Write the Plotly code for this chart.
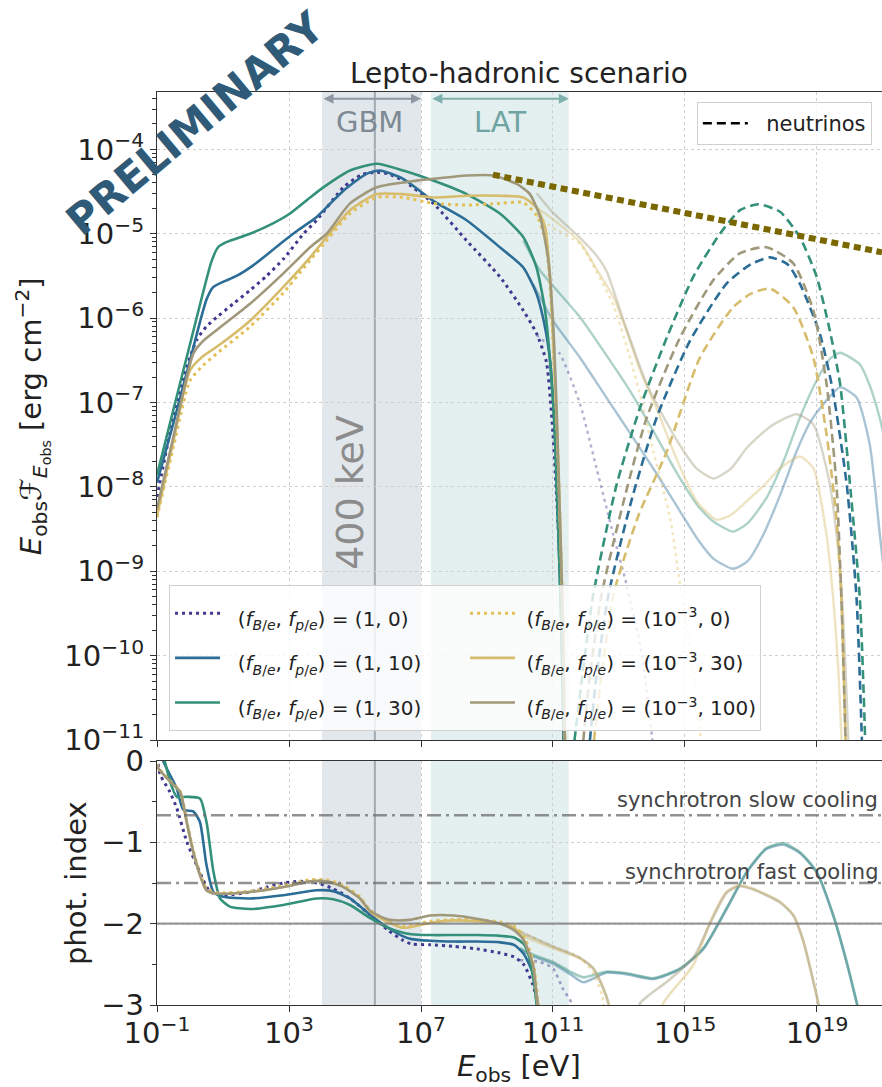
import plotly.graph_objects as go

# ---------------- axis ranges / reference values ----------------
x_range_log = [-1, 20.97]          # log10(E_obs / eV)
sed_range_log = [-11, -3.32]       # log10(E F_E / erg cm^-2)
index_range = [-3, 0]

gbm_band = [1e4, 1e7]
lat_band = [2e7, 3e11]
line_400keV = 4e5
slow_cooling_index = -2 / 3
fast_cooling_index = -3 / 2
reference_index = -2

x_tick_exps = [-1, 3, 7, 11, 15, 19]
y_tick_exps = [-4, -5, -6, -7, -8, -9, -10, -11]
idx_ticks = [0, -1, -2, -3]

# ---------------- top panel: photon spectra (log10 values) ----------------
sed_1_0_logE = [-1.0, -0.6, -0.2, 0.2, 0.5, 0.81, 1.31, 1.82, 2.32, 2.83, 3.44, 3.84, 4.65, 5.2, 5.66, 6.0,
                6.46, 7.37, 8.38, 9.39, 10.1, 10.5, 10.8, 11.0, 11.17, 11.26, 11.35]
sed_1_0_logF = [-8.12, -7.35, -6.7, -6.26, -6.1, -5.99, -5.83, -5.67, -5.5, -5.3, -5.0, -4.84, -4.45, -4.3,
                -4.27, -4.29, -4.37, -4.64, -5.08, -5.51, -5.91, -6.18, -6.52, -7.38, -8.57, -9.36, -11.5]

sed_1_10_logE = [-1.0, -0.5, 0.0, 0.5, 0.71, 1.0, 1.41, 2.0, 2.7, 3.3, 3.84, 4.65, 5.35, 5.76, 6.46, 7.37,
                 8.38, 9.39, 10.1, 10.5, 10.76, 10.91, 11.05, 11.15, 11.25, 11.35]
sed_1_10_logF = [-7.95, -7.24, -6.5, -5.78, -5.63, -5.57, -5.5, -5.35, -5.13, -4.95, -4.8, -4.49, -4.29,
                 -4.25, -4.35, -4.61, -4.84, -5.16, -5.4, -5.71, -6.11, -6.5, -7.3, -8.4, -9.6, -11.5]

sed_1_30_logE = [-1.0, -0.5, 0.0, 0.4, 0.65, 0.85, 1.1, 1.82, 2.5, 3.03, 3.64, 4.04, 4.85, 5.66, 6.46, 7.37,
                 8.38, 9.39, 10.1, 10.5, 10.76, 10.91, 11.05, 11.15, 11.25, 11.36]
sed_1_30_logF = [-7.86, -7.08, -6.31, -5.69, -5.33, -5.16, -5.1, -5.0, -4.88, -4.76, -4.57, -4.45, -4.25,
                 -4.17, -4.25, -4.37, -4.53, -4.76, -5.04, -5.4, -5.91, -6.5, -7.3, -8.4, -9.6, -11.5]

sed_3_0_logE = [-1.0, -0.5, 0.0, 0.4, 0.81, 1.82, 2.83, 3.5, 4.14, 4.85, 5.66, 6.46, 7.37, 8.38, 9.39, 10.1,
                10.5, 10.76, 10.91, 11.01, 11.12, 11.22, 11.3, 11.38]
sed_3_0_logF = [-8.36, -7.52, -6.74, -6.56, -6.42, -6.1, -5.7, -5.38, -5.08, -4.76, -4.57, -4.57, -4.64,
                -4.66, -4.64, -4.63, -4.78, -5.05, -5.6, -6.35, -7.3, -8.5, -9.6, -11.5]

sed_3_30_logE = [-1.0, -0.5, 0.0, 0.4, 0.81, 1.82, 2.83, 3.64, 4.14, 4.85, 5.66, 6.46, 7.37, 8.38, 9.39, 10.1,
                 10.5, 10.76, 10.91, 11.01, 11.12, 11.22, 11.3, 11.38]
sed_3_30_logF = [-8.34, -7.45, -6.62, -6.45, -6.34, -6.03, -5.63, -5.28, -5.04, -4.72, -4.53, -4.53, -4.57,
                 -4.55, -4.55, -4.57, -4.69, -4.92, -5.51, -6.3, -7.3, -8.5, -9.6, -11.5]

sed_3_100_logE = [-1.0, -0.5, 0.1, 0.4, 0.81, 1.82, 2.83, 3.64, 4.14, 4.85, 5.66, 6.87, 7.6, 8.38, 9.19, 9.9,
                  10.3, 10.61, 10.86, 11.01, 11.12, 11.22, 11.3, 11.38]
sed_3_100_logF = [-8.26, -7.4, -6.42, -6.27, -6.14, -5.83, -5.47, -5.16, -5.0, -4.64, -4.45, -4.37, -4.34,
                  -4.31, -4.31, -4.41, -4.53, -4.8, -5.32, -6.11, -7.2, -8.5, -9.6, -11.5]

# faint (unabsorbed) high-energy continuations
hi_1_0_logE = [10.5, 10.9, 11.2, 11.82, 12.32, 12.83, 13.23, 13.7, 14.15]
hi_1_0_logF = [-6.2, -6.33, -6.42, -7.02, -7.78, -8.57, -9.16, -10.0, -11.5]

hi_1_10_logE = [10.4, 11.0, 11.82, 12.6, 13.43, 14.2, 14.85, 15.4, 15.86, 16.46, 16.9, 17.37, 17.9, 18.38,
                18.8, 19.19, 19.7, 20.2, 20.6, 20.9, 21.0]
hi_1_10_logF = [-5.6, -6.03, -6.47, -6.93, -7.42, -7.88, -8.29, -8.63, -8.85, -8.97, -8.88, -8.57, -8.08,
                -7.58, -7.23, -7.02, -6.82, -6.94, -7.5, -8.55, -8.9]

hi_1_30_logE = [10.1, 10.6, 11.82, 12.6, 13.33, 14.1, 14.85, 15.4, 15.86, 16.46, 16.9, 17.47, 18.0, 18.48,
                19.0, 19.4, 19.7, 20.3, 20.6, 20.9, 21.0]
hi_1_30_logF = [-5.08, -5.43, -5.99, -6.43, -6.86, -7.38, -7.9, -8.23, -8.41, -8.53, -8.43, -8.13, -7.68,
                -7.18, -6.73, -6.48, -6.41, -6.55, -6.8, -7.18, -7.35]

hi_3_0_logE = [10.5, 11.0, 11.82, 12.32, 12.83, 13.3, 13.7, 14.04, 14.55, 14.85, 15.3, 15.6]
hi_3_0_logF = [-4.78, -4.93, -5.12, -5.45, -5.85, -6.42, -7.0, -7.58, -8.37, -9.16, -10.3, -11.5]

hi_3_30_logE = [10.5, 11.0, 11.82, 12.32, 12.83, 13.2, 13.64, 14.2, 14.65, 15.35, 15.96, 16.4, 16.87, 17.4,
                17.88, 18.48, 18.89, 19.29, 19.49, 19.65, 19.8]
hi_3_30_logF = [-4.69, -4.83, -5.1, -5.42, -5.75, -6.12, -6.62, -7.13, -7.58, -8.17, -8.39, -8.33, -8.17,
                -7.98, -7.78, -7.64, -7.78, -8.57, -9.32, -10.2, -11.5]

hi_3_100_logE = [10.5, 11.0, 11.82, 12.3, 12.63, 13.13, 13.84, 14.65, 15.35, 15.86, 16.4, 16.87, 17.6, 18.38,
                 18.89, 19.39, 19.7, 19.85, 20.0]
hi_3_100_logF = [-4.52, -4.75, -5.05, -5.25, -5.45, -6.02, -6.78, -7.38, -7.78, -7.9, -7.78, -7.54, -7.28,
                 -7.14, -7.26, -7.97, -8.97, -10.0, -11.5]

# neutrino spectra (dashed)
nu_1_10_logE = [12.0, 12.3, 12.68, 13.4, 14.14, 15.15, 16.26, 17.0, 17.58, 18.1, 18.48, 19.09, 19.48, 19.9,
                20.2, 20.4]
nu_1_10_logF = [-11.5, -10.3, -9.28, -8.13, -7.18, -6.27, -5.59, -5.36, -5.28, -5.36, -5.59, -6.19, -6.86,
                -7.97, -9.33, -11.5]

nu_1_30_logE = [11.5, 11.9, 12.22, 12.93, 13.64, 14.45, 15.25, 16.06, 16.67, 17.22, 17.88, 18.48, 18.99,
                19.39, 19.7, 20.0, 20.3, 20.5]
nu_1_30_logF = [-11.5, -10.2, -9.28, -7.97, -7.06, -6.23, -5.51, -5.0, -4.72, -4.65, -4.74, -5.04, -5.51,
                -6.15, -6.78, -7.97, -9.33, -11.5]

nu_3_30_logE = [12.1, 12.45, 12.83, 13.6, 14.45, 15.45, 16.46, 17.0, 17.58, 18.28, 18.89, 19.29, 19.59,
                19.74, 19.9]
nu_3_30_logF = [-11.5, -10.3, -9.28, -8.33, -7.58, -6.47, -5.87, -5.71, -5.65, -5.87, -6.47, -7.38, -8.37,
                -9.33, -11.5]

nu_3_100_logE = [11.8, 12.1, 12.47, 13.2, 13.84, 14.85, 15.86, 16.67, 17.47, 18.28, 18.89, 19.29, 19.59,
                 19.74, 19.9]
nu_3_100_logF = [-11.5, -10.3, -9.28, -8.08, -7.18, -6.23, -5.55, -5.23, -5.16, -5.35, -5.91, -6.78, -7.97,
                 -9.33, -11.5]

# neutrino limit line (thick dotted)
nu_limit_logE = [9.18, 20.97]
nu_limit_logF = [-4.30, -5.22]

# ---------------- bottom panel: photon index ----------------
idx_1_0_logE = [-1.0, -0.9, -0.61, -0.4, -0.1, 0.2, 0.4, 0.61, 1.01, 1.82, 2.32, 2.83, 3.33, 3.84, 4.34, 4.85,
                5.45, 6.0, 6.43, 6.71, 7.28, 8.0, 8.69, 9.4, 9.82, 10.11, 10.39, 10.53, 10.6]
idx_1_0 = [0.05, -0.17, -0.38, -0.58, -0.99, -1.28, -1.46, -1.61, -1.65, -1.61, -1.55, -1.5, -1.48, -1.5,
           -1.57, -1.69, -1.89, -2.08, -2.2, -2.25, -2.26, -2.28, -2.31, -2.36, -2.41, -2.5, -2.75, -2.98, -3.2]

idx_1_10_logE = [-1.0, -0.8, -0.4, -0.2, 0.1, 0.3, 0.5, 0.71, 1.01, 1.82, 2.83, 3.84, 4.34, 4.85, 5.45, 6.0,
                 6.43, 6.71, 7.28, 8.0, 8.69, 9.4, 9.82, 10.11, 10.39, 10.53, 10.6]
idx_1_10 = [0.3, -0.01, -0.34, -0.6, -0.62, -0.75, -1.28, -1.61, -1.67, -1.69, -1.65, -1.59, -1.6, -1.69,
            -1.89, -2.05, -2.15, -2.19, -2.21, -2.22, -2.22, -2.23, -2.26, -2.37, -2.61, -2.98, -3.2]

idx_1_30_logE = [-1.0, -0.76, -0.61, -0.4, -0.1, 0.3, 0.5, 0.71, 0.91, 1.21, 1.82, 2.83, 3.84, 4.34, 4.85,
                 5.45, 6.0, 6.43, 6.71, 7.28, 8.0, 8.69, 9.4, 9.82, 10.11, 10.25, 10.45, 10.55]
idx_1_30 = [0.3, -0.01, -0.25, -0.44, -0.44, -0.46, -0.75, -1.36, -1.69, -1.79, -1.82, -1.77, -1.69, -1.7,
            -1.77, -1.93, -2.05, -2.11, -2.13, -2.14, -2.14, -2.14, -2.15, -2.17, -2.25, -2.37, -2.8, -3.2]

idx_3_0_logE = [-1.0, -0.96, -0.61, -0.3, -0.1, 0.1, 0.3, 0.5, 0.81, 1.82, 2.83, 3.64, 4.14, 4.65, 5.15, 5.45,
                6.0, 6.43, 6.71, 7.28, 8.0, 8.69, 9.4, 9.82, 10.11, 10.39, 10.53, 10.6]
idx_3_0 = [-0.04, -0.08, -0.24, -0.37, -0.74, -1.1, -1.38, -1.57, -1.62, -1.6, -1.53, -1.46, -1.46, -1.53,
           -1.67, -1.83, -1.97, -2.03, -2.02, -1.97, -1.95, -1.95, -1.98, -2.03, -2.15, -2.45, -2.9, -3.2]

idx_3_30_logE = [-1.0, -0.96, -0.61, -0.3, -0.1, 0.1, 0.3, 0.5, 0.81, 1.82, 2.83, 3.64, 4.14, 4.65, 5.15, 5.45,
                 6.0, 6.43, 6.71, 7.28, 8.0, 8.69, 9.4, 9.82, 10.11, 10.39, 10.53, 10.6]
idx_3_30 = [-0.05, -0.09, -0.25, -0.38, -0.75, -1.12, -1.4, -1.59, -1.63, -1.61, -1.55, -1.48, -1.48, -1.55,
            -1.69, -1.85, -1.98, -2.05, -2.04, -1.99, -1.96, -1.97, -2.0, -2.05, -2.2, -2.5, -2.98, -3.2]

idx_3_100_logE = [-1.0, -0.96, -0.61, -0.3, -0.1, 0.1, 0.3, 0.5, 0.81, 1.82, 2.83, 3.64, 4.14, 4.65, 5.15,
                  5.45, 6.0, 6.43, 6.71, 7.28, 8.0, 8.69, 9.4, 9.82, 10.11, 10.39, 10.53, 10.6]
idx_3_100 = [-0.05, -0.09, -0.25, -0.38, -0.75, -1.12, -1.4, -1.59, -1.63, -1.61, -1.55, -1.48, -1.48, -1.55,
             -1.69, -1.84, -1.95, -1.96, -1.95, -1.9, -1.9, -1.94, -2.0, -2.08, -2.2, -2.5, -2.98, -3.2]

# faint continuations of the photon index
idxhi_1_0_logE = [10.0, 10.6, 11.0, 11.3, 11.57, 11.7]
idxhi_1_0 = [-2.45, -2.47, -2.55, -2.8, -2.98, -3.3]

idxhi_1_10_logE = [10.0, 10.4, 11.0, 11.52, 11.92, 12.63, 13.23, 14.04, 14.85, 15.56, 16.26, 16.87, 17.47,
                   17.98, 18.48, 18.99, 19.49, 19.9, 20.2, 20.4]
idxhi_1_10 = [-2.32, -2.4, -2.49, -2.62, -2.72, -2.6, -2.62, -2.68, -2.56, -2.31, -1.82, -1.37, -1.08, -1.03,
              -1.13, -1.37, -1.9, -2.48, -2.97, -3.3]

idxhi_1_30_logE = [10.0, 10.4, 11.0, 11.52, 11.92, 12.63, 13.23, 14.04, 14.85, 15.56, 16.26, 16.87, 17.47,
                   17.98, 18.48, 18.99, 19.49, 19.9, 20.2, 20.4]
idxhi_1_30 = [-2.3, -2.38, -2.47, -2.59, -2.66, -2.59, -2.61, -2.67, -2.55, -2.3, -1.81, -1.36, -1.07, -1.01,
              -1.12, -1.36, -1.89, -2.47, -2.96, -3.3]

idxhi_3_0_logE = [10.0, 11.0, 11.82, 12.22, 12.5, 12.6]
idxhi_3_0 = [-2.1, -2.28, -2.42, -2.6, -2.9, -3.3]

idxhi_3_30_logE = [10.0, 11.0, 11.82, 12.22, 12.53, 12.68, 12.8, None,
                   14.2, 14.34, 15.25, 15.76, 16.26, 16.62, 17.07, 17.88, 18.28, 18.59, 18.89, 19.04, 19.15]
idxhi_3_30 = [-2.14, -2.3, -2.43, -2.55, -2.8, -2.98, -3.3, None,
              -3.3, -2.98, -2.51, -1.98, -1.61, -1.53, -1.57, -1.73, -1.89, -2.22, -2.71, -2.98, -3.3]

idxhi_3_100_logE = [10.0, 11.0, 11.82, 12.22, 12.53, 12.68, 12.8, None,
                    13.5, 13.64, 14.5, 15.25, 15.76, 16.26, 16.62, 17.07, 17.88, 18.28, 18.59, 18.89, 19.04, 19.15]
idxhi_3_100 = [-2.1, -2.28, -2.42, -2.55, -2.8, -2.98, -3.3, None,
               -3.3, -2.98, -2.7, -2.42, -2.0, -1.62, -1.54, -1.58, -1.74, -1.9, -2.22, -2.71, -2.98, -3.3]

# ---------------- model definitions (styles) ----------------
LBL = "(<i>f</i><sub><i>B</i>/<i>e</i></sub>, <i>f</i><sub><i>p</i>/<i>e</i></sub>) = "
models = [
    dict(name=LBL + "(1, 0)", color="#40398f", dash="3px,4px", width=3, rank=1, pad=2,
         sed=(sed_1_0_logE, sed_1_0_logF), hi=(hi_1_0_logE, hi_1_0_logF), nu=None,
         idx=(idx_1_0_logE, idx_1_0), idxhi=(idxhi_1_0_logE, idxhi_1_0)),
    dict(name=LBL + "(1, 10)", color="#2b6d96", dash="solid", width=2.6, rank=3, pad=2,
         sed=(sed_1_10_logE, sed_1_10_logF), hi=(hi_1_10_logE, hi_1_10_logF), nu=(nu_1_10_logE, nu_1_10_logF),
         idx=(idx_1_10_logE, idx_1_10), idxhi=(idxhi_1_10_logE, idxhi_1_10)),
    dict(name=LBL + "(1, 30)", color="#33907a", dash="solid", width=2.6, rank=5, pad=2,
         sed=(sed_1_30_logE, sed_1_30_logF), hi=(hi_1_30_logE, hi_1_30_logF), nu=(nu_1_30_logE, nu_1_30_logF),
         idx=(idx_1_30_logE, idx_1_30), idxhi=(idxhi_1_30_logE, idxhi_1_30)),
    dict(name=LBL + "(10<sup>−3</sup>, 0)", color="#e3c055", dash="3px,4px", width=3, rank=2, pad=1,
         sed=(sed_3_0_logE, sed_3_0_logF), hi=(hi_3_0_logE, hi_3_0_logF), nu=None,
         idx=(idx_3_0_logE, idx_3_0), idxhi=(idxhi_3_0_logE, idxhi_3_0)),
    dict(name=LBL + "(10<sup>−3</sup>, 30)", color="#d6bc6b", dash="solid", width=2.6, rank=4, pad=1,
         sed=(sed_3_30_logE, sed_3_30_logF), hi=(hi_3_30_logE, hi_3_30_logF), nu=(nu_3_30_logE, nu_3_30_logF),
         idx=(idx_3_30_logE, idx_3_30), idxhi=(idxhi_3_30_logE, idxhi_3_30)),
    dict(name=LBL + "(10<sup>−3</sup>, 100)", color="#a0987a", dash="solid", width=2.6, rank=6, pad=1,
         sed=(sed_3_100_logE, sed_3_100_logF), hi=(hi_3_100_logE, hi_3_100_logF), nu=(nu_3_100_logE, nu_3_100_logF),
         idx=(idx_3_100_logE, idx_3_100), idxhi=(idxhi_3_100_logE, idxhi_3_100)),
]


def lin(vals):
    return [None if v is None else 10 ** v for v in vals]


def legend_text(s, pad, size=20):
    return '<span style="font-size:%dpx">%s%s</span>' % (size, "\u00a0" * pad, s)


fig = go.Figure()
SPL = dict(shape="spline", smoothing=0.6)

# faint continuations (drawn first)
for m in models:
    fig.add_trace(go.Scatter(x=lin(m["hi"][0]), y=lin(m["hi"][1]), mode="lines", xaxis="x", yaxis="y",
                             line=dict(color=m["color"], width=2.4, dash=m["dash"], **SPL),
                             opacity=0.4, showlegend=False, hoverinfo="skip"))
    fig.add_trace(go.Scatter(x=lin(m["idxhi"][0]), y=m["idxhi"][1], mode="lines", xaxis="x2", yaxis="y2",
                             line=dict(color=m["color"], width=2.6, dash=m["dash"], **SPL),
                             opacity=0.45, showlegend=False, hoverinfo="skip", connectgaps=False))

# neutrino spectra
for m in models:
    if m["nu"] is None:
        continue
    fig.add_trace(go.Scatter(x=lin(m["nu"][0]), y=lin(m["nu"][1]), mode="lines", xaxis="x", yaxis="y",
                             line=dict(color=m["color"], width=2.6, dash="9px,5px", **SPL),
                             showlegend=False, hoverinfo="skip"))

# main curves
for m in models:
    fig.add_trace(go.Scatter(x=lin(m["sed"][0]), y=lin(m["sed"][1]), mode="lines", xaxis="x", yaxis="y",
                             name=legend_text(m["name"], m["pad"]), legendrank=m["rank"],
                             line=dict(color=m["color"], width=m["width"], dash=m["dash"], **SPL),
                             hoverinfo="skip"))
    fig.add_trace(go.Scatter(x=lin(m["idx"][0]), y=m["idx"][1], mode="lines", xaxis="x2", yaxis="y2",
                             line=dict(color=m["color"], width=m["width"], dash=m["dash"], **SPL),
                             showlegend=False, hoverinfo="skip"))

# neutrino limit line
fig.add_trace(go.Scatter(x=lin(nu_limit_logE), y=lin(nu_limit_logF), mode="lines", xaxis="x", yaxis="y",
                         line=dict(color="#7a6700", width=6, dash="7px,4.5px"), showlegend=False,
                         hoverinfo="skip"))

# legend entry for neutrinos
fig.add_trace(go.Scatter(x=[None], y=[None], mode="lines", name="\u00a0\u00a0neutrinos", legend="legend2",
                         line=dict(color="black", width=2.6, dash="9px,5px"), xaxis="x", yaxis="y"))

# ---------------- shapes ----------------
shapes = []
for yref in ["y domain", "y2 domain"]:
    shapes.append(dict(type="rect", xref="x", yref=yref, x0=gbm_band[0], x1=gbm_band[1], y0=0, y1=1,
                       fillcolor="rgba(111,134,153,0.2)", line=dict(width=0), layer="below"))
    shapes.append(dict(type="rect", xref="x", yref=yref, x0=lat_band[0], x1=lat_band[1], y0=0, y1=1,
                       fillcolor="rgba(95,160,160,0.17)", line=dict(width=0), layer="below"))
    shapes.append(dict(type="line", xref="x", yref=yref, x0=line_400keV, x1=line_400keV, y0=0, y1=1,
                       line=dict(color="rgba(120,130,140,0.6)", width=2), layer="below"))
for val in [slow_cooling_index, fast_cooling_index]:
    shapes.append(dict(type="line", xref="x2 domain", yref="y2", x0=0, x1=1, y0=val, y1=val,
                       line=dict(color="rgba(110,110,110,0.75)", width=2.4, dash="14px,5px,3px,5px")))
shapes.append(dict(type="line", xref="x2 domain", yref="y2", x0=0, x1=1, y0=reference_index, y1=reference_index,
                   line=dict(color="rgba(120,120,120,0.75)", width=2.4)))

# ---------------- annotations ----------------
FONT = "DejaVu Sans"
C = dict(xanchor="center", yanchor="middle", showarrow=False)
ann = []
ann.append(dict(text="Lepto-hadronic scenario", xref="paper", yref="paper", x=0.4993, y=1.0208,
                font=dict(size=28, color="#222"), **C))
ann.append(dict(text="<b>PRELIMINARY</b>", xref="paper", yref="paper", x=0.0524, y=0.9655, textangle=-40,
                font=dict(size=42, color="#2f5a78"), **C))
ann.append(dict(text="<i>E</i><sub>obs</sub><i>ℱ</i><sub><i>E</i><sub>obs</sub></sub> [erg cm<sup>−2</sup>]",
                xref="paper", yref="paper", x=-0.1724, y=0.645, textangle=-90,
                font=dict(size=29, color="#222"), **C))
ann.append(dict(text="phot. index", xref="paper", yref="paper", x=-0.1117, y=0.1336, textangle=-90,
                font=dict(size=29, color="#222"), **C))
ann.append(dict(text="<i>E</i><sub>obs</sub> [eV]", xref="paper", yref="paper", x=0.4993, y=-0.069,
                font=dict(size=29, color="#222"), **C))
# instrument bands
ann.append(dict(text="GBM", xref="x", yref="y", x=5.45, y=-3.68, font=dict(size=29, color="#7d8995"), **C))
ann.append(dict(text="LAT", xref="x", yref="y", x=9.39, y=-3.68, font=dict(size=29, color="#6fa4a2"), **C))
ann.append(dict(text="", xref="x", yref="y", axref="x", ayref="y", x=7.0, y=-3.40, ax=4.0, ay=-3.40,
                showarrow=True, arrowhead=2, startarrowhead=2, arrowside="end+start", arrowwidth=2,
                arrowsize=1, arrowcolor="#8d98a3"))
ann.append(dict(text="", xref="x", yref="y", axref="x", ayref="y", x=11.48, y=-3.40, ax=7.3, ay=-3.40,
                showarrow=True, arrowhead=2, startarrowhead=2, arrowside="end+start", arrowwidth=2,
                arrowsize=1, arrowcolor="#7fb0ae"))
ann.append(dict(text="400 keV", xref="x", yref="y", x=4.85, y=-8.07, textangle=-90,
                font=dict(size=38, color="#8c8c8c"), **C))
ann.append(dict(text="synchrotron slow cooling", xref="paper", yref="y2", x=0.997, y=-0.48,
                xanchor="right", yanchor="middle", showarrow=False, font=dict(size=21, color="#444")))
ann.append(dict(text="synchrotron fast cooling", xref="paper", yref="y2", x=0.997, y=-1.36,
                xanchor="right", yanchor="middle", showarrow=False, font=dict(size=21, color="#444")))

# ---------------- axes ----------------
x_tick_vals = [10.0 ** e for e in x_tick_exps]
x_tick_text = ["10<sup>%s</sup>" % (str(e).replace("-", "−")) for e in x_tick_exps]
y_tick_vals = [10.0 ** e for e in y_tick_exps]
y_tick_text = ["10<sup>%s</sup>" % (str(e).replace("-", "−")) for e in y_tick_exps]
y_minor = [k * 10.0 ** e for e in range(-11, -3) for k in range(2, 10)]

AX = dict(showline=True, linecolor="#333", linewidth=1.3, ticks="outside", tickcolor="#333", tickwidth=1.3,
          ticklen=6, zeroline=False, gridcolor="#cfcfcf", griddash="dot", gridwidth=1)

fig.update_layout(
    width=882, height=1087,
    margin=dict(l=157, r=0, t=92, b=82),
    paper_bgcolor="white", plot_bgcolor="white",
    font=dict(family=FONT, color="#222", size=20),
    xaxis=dict(type="log", range=x_range_log, domain=[0, 1], anchor="y", tickvals=x_tick_vals,
               showticklabels=False, mirror=True, **AX),
    yaxis=dict(type="log", range=sed_range_log, domain=[0.29025, 1], anchor="x", tickvals=y_tick_vals,
               ticktext=y_tick_text, tickfont=dict(size=29, color="#222"),
               minor=dict(tickvals=y_minor, ticks="outside", ticklen=3.5, tickcolor="#333", showgrid=False),
               **AX),
    xaxis2=dict(type="log", range=x_range_log, domain=[0, 1], anchor="y2", matches="x", tickvals=x_tick_vals,
                ticktext=x_tick_text, tickfont=dict(size=29, color="#222"), mirror=True, **AX),
    yaxis2=dict(range=index_range, domain=[0, 0.26725], anchor="x2", tickvals=idx_ticks,
                ticktext=[str(v).replace("-", "−") for v in idx_ticks], tickfont=dict(size=29, color="#222"),
                minor=dict(dtick=0.5, ticks="outside", ticklen=3.5, tickcolor="#333", showgrid=False),
                **AX),
    legend=dict(orientation="h", x=0.0166, y=0.46, xanchor="left", yanchor="top", entrywidth=235,
                itemwidth=45, bgcolor="rgba(255,255,255,0.8)", bordercolor="#d0d0d0", borderwidth=1,
                font=dict(size=32, color="#222"), traceorder="normal"),
    legend2=dict(x=0.986, y=0.989, xanchor="right", yanchor="top", itemwidth=45,
                 bgcolor="rgba(255,255,255,0.8)",
                 bordercolor="#d0d0d0", borderwidth=1, font=dict(size=21, color="#222")),
    shapes=shapes,
    annotations=ann,
    showlegend=True,
)

try:
    fig.layout.xaxis2.ticklabelstandoff = -4
except Exception:
    pass

fig.write_html("out.html")
